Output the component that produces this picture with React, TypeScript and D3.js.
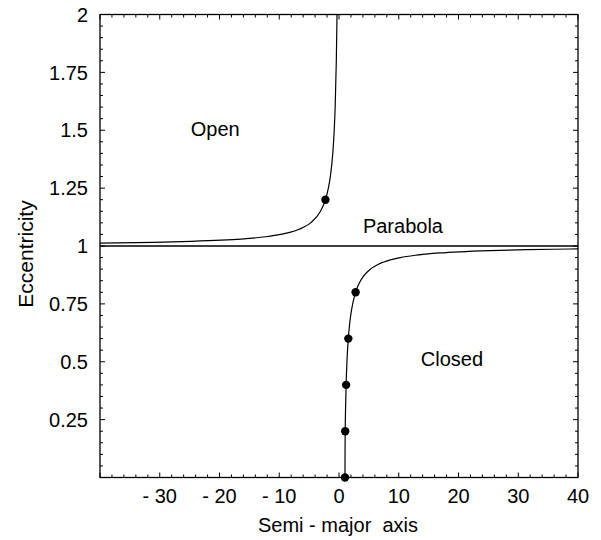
import React from 'react'
import * as d3 from 'd3'

// values (eccentricity vs semi-major axis)
const closedAxis = [1, 1.01, 1.04, 1.1, 1.19, 1.33, 1.56, 1.73, 1.96, 2.29, 2.78, 3.4, 4.11, 5.26, 6.51, 8.59, 10.26, 12.76, 16.92, 20.25, 25.25, 31.5, 38.7, 40]
const closedEcc = [0, 0.1, 0.2, 0.3, 0.4, 0.5, 0.6, 0.65, 0.7, 0.75, 0.8, 0.84, 0.87, 0.9, 0.92, 0.94, 0.95, 0.96, 0.97, 0.975, 0.98, 0.984, 0.987, 0.9874]

const openAxis = [-40, -31, -24.75, -19.75, -16.42, -12.25, -9.76, -8.09, -6.01, -4.76, -3.1, -2.27, -1.78, -1.45, -1.04, -0.8, -0.64, -0.45, -0.33]
const openEcc = [1.0125, 1.016, 1.02, 1.025, 1.03, 1.04, 1.05, 1.06, 1.08, 1.1, 1.15, 1.2, 1.25, 1.3, 1.4, 1.5, 1.6, 1.8, 2]

const markedAxis = [1, 1.04, 1.19, 1.56, 2.78, -2.27]
const markedEcc = [0, 0.2, 0.4, 0.6, 0.8, 1.2]

const xTickLabels = [-30, -20, -10, 0, 10, 20, 30, 40]
const yTickLabels = [0.25, 0.5, 0.75, 1, 1.25, 1.5, 1.75, 2]

const regionLabels = [
  { text: 'Open', a: -24.8, e: 1.475 },
  { text: 'Parabola', a: 4, e: 1.056 },
  { text: 'Closed', a: 13.7, e: 0.48 },
]

const font = '"Liberation Sans", Arial, Helvetica, sans-serif'

export default function App() {
  const width = 601
  const height = 540
  const left = 100, right = 578, top = 14.5, bottom = 477.5

  const x = d3.scaleLinear().domain([-40, 40]).range([left, right])
  const y = d3.scaleLinear().domain([0, 2]).range([bottom, top])

  const line = d3.line<[number, number]>()
    .x(d => x(d[0]))
    .y(d => y(d[1]))
    .curve(d3.curveMonotoneX)

  const closed = closedAxis.map((a, i) => [a, closedEcc[i]] as [number, number])
  const open = openAxis.map((a, i) => [a, openEcc[i]] as [number, number])

  const xMinor = d3.range(-40, 40.001, 2)
  const yMinor = d3.range(0, 2.0001, 0.05)
  const isMajorX = (v: number) => Math.abs(v % 10) < 1e-6
  const isMajorY = (v: number) => Math.abs((v / 0.25) - Math.round(v / 0.25)) < 1e-6

  const fmt = (v: number) => (v < 0 ? '- ' + Math.abs(v) : String(v))

  return (
    <svg width={width} height={height} style={{ position: 'absolute', left: 0, top: 0, background: '#fff' }}
      fontFamily={font} role="img" aria-label="Eccentricity versus semi-major axis">
      <defs>
        <clipPath id="plot">
          <rect x={left} y={top} width={right - left} height={bottom - top} />
        </clipPath>
      </defs>

      {/* frame ticks, pointing inward */}
      <g stroke="#000" strokeWidth={1}>
        {xMinor.map(v => {
          const len = isMajorX(v) ? 5 : 3
          return (
            <g key={'x' + v}>
              <line x1={x(v)} x2={x(v)} y1={bottom} y2={bottom - len} />
              <line x1={x(v)} x2={x(v)} y1={top} y2={top + len} />
            </g>
          )
        })}
        {yMinor.map(v => {
          const len = isMajorY(v) ? 5 : 3
          return (
            <g key={'y' + v}>
              <line x1={left} x2={left + len} y1={y(v)} y2={y(v)} />
              <line x1={right} x2={right - len} y1={y(v)} y2={y(v)} />
            </g>
          )
        })}
      </g>

      <rect x={left} y={top} width={right - left} height={bottom - top} fill="none" stroke="#000" strokeWidth={1.3} />

      <g clipPath="url(#plot)" fill="none" stroke="#000" strokeWidth={1.2}>
        <line x1={left} x2={right} y1={y(1)} y2={y(1)} strokeWidth={1.4} />
        <path d={line(closed) || ''} />
        <path d={line(open) || ''} />
      </g>

      {markedAxis.map((a, i) => (
        <circle key={i} cx={x(a)} cy={y(markedEcc[i])} r={4.2} fill="#000" />
      ))}

      {/* tick labels */}
      <g fontSize={20} fill="#000">
        {xTickLabels.map(v => (
          <text key={v} x={x(v)} y={503} textAnchor="middle">{fmt(v)}</text>
        ))}
        {yTickLabels.map(v => (
          <text key={v} x={88} y={y(v)} dy="0.36em" textAnchor="end">{v}</text>
        ))}
      </g>

      <text x={338} y={532} fontSize={20} textAnchor="middle" style={{ whiteSpace: 'pre' }}>{'Semi - major  axis'}</text>
      <text transform={`translate(33,${254}) rotate(-90)`} fontSize={21} textAnchor="middle">Eccentricity</text>

      {regionLabels.map(l => (
        <text key={l.text} x={x(l.a)} y={y(l.e)} fontSize={20}>{l.text}</text>
      ))}
    </svg>
  )
}
